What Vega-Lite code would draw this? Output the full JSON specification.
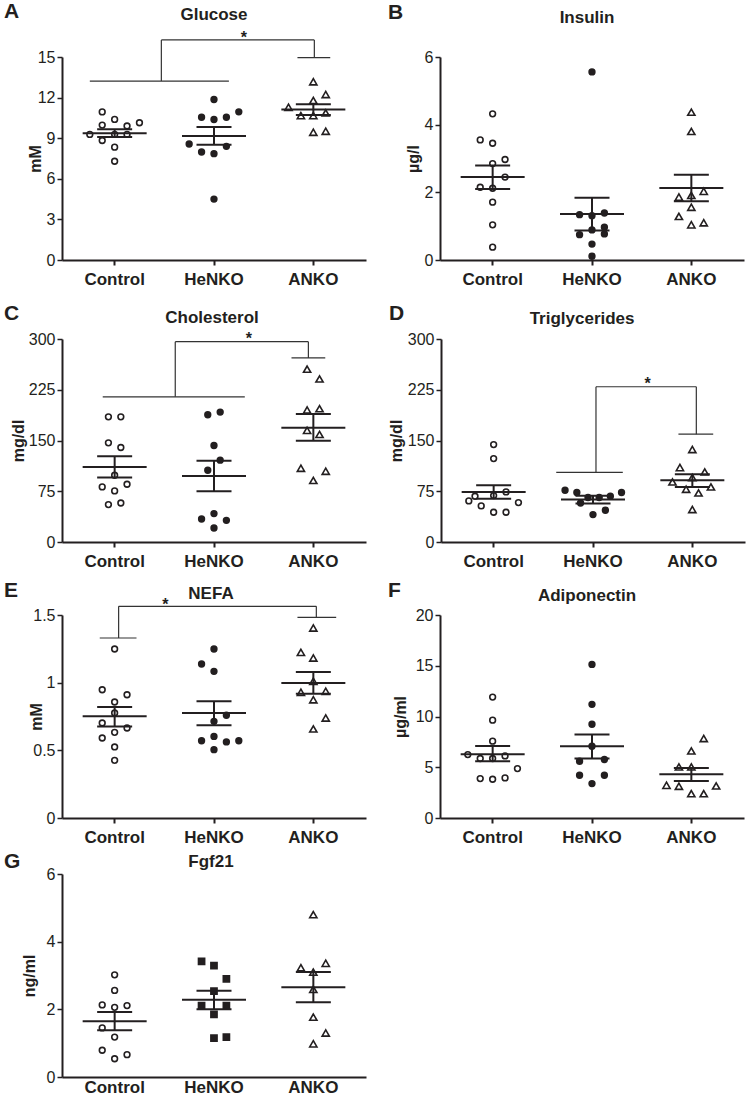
{
"$schema":"https://vega.github.io/schema/vega-lite/v6.json",
"background":"white",
"padding":{"left":4,"top":0,"right":2,"bottom":0},
"config":{
 "view":{"stroke":null},
 "font":"Liberation Sans",
 "axis":{"domainColor":"#231f20","domainWidth":2,"tickColor":"#231f20","labelColor":"#231f20","titleColor":"#231f20","grid":false,"labelFont":"Liberation Sans","titleFont":"Liberation Sans"},
 "axisX":{"labelAngle":0,"labelFontSize":17,"labelFontWeight":"bold","labelPadding":6,"tickSize":5,"tickWidth":2},
 "axisY":{"labelFontSize":16,"labelPadding":2,"tickSize":5,"tickWidth":1.5,"titleFontSize":16,"titleFontWeight":"bold"},
 "title":{"fontSize":21,"fontWeight":"bold","anchor":"start","frame":"group","color":"#231f20","font":"Liberation Sans","baseline":"alphabetic"}
},
"datasets":{
"pts":[
{"panel":"Glucose","group":"Control","slot":-1,"value":10.94},{"panel":"Glucose","group":"Control","slot":0,"value":10.39},{"panel":"Glucose","group":"Control","slot":-1,"value":9.97},{"panel":"Glucose","group":"Control","slot":1,"value":9.9},{"panel":"Glucose","group":"Control","slot":2,"value":10.14},{"panel":"Glucose","group":"Control","slot":-2,"value":9.28},{"panel":"Glucose","group":"Control","slot":0,"value":9.28},{"panel":"Glucose","group":"Control","slot":1,"value":9.28},{"panel":"Glucose","group":"Control","slot":-1,"value":8.83},{"panel":"Glucose","group":"Control","slot":0,"value":8.34},{"panel":"Glucose","group":"Control","slot":0,"value":7.3},
{"panel":"Glucose","group":"HeNKO","slot":0,"value":11.86},{"panel":"Glucose","group":"HeNKO","slot":2,"value":10.95},{"panel":"Glucose","group":"HeNKO","slot":-1,"value":10.55},{"panel":"Glucose","group":"HeNKO","slot":0,"value":10.38},{"panel":"Glucose","group":"HeNKO","slot":1,"value":10.55},{"panel":"Glucose","group":"HeNKO","slot":-2,"value":8.57},{"panel":"Glucose","group":"HeNKO","slot":1,"value":8.4},{"panel":"Glucose","group":"HeNKO","slot":-1,"value":7.98},{"panel":"Glucose","group":"HeNKO","slot":0,"value":7.86},{"panel":"Glucose","group":"HeNKO","slot":0,"value":4.5},
{"panel":"Glucose","group":"ANKO","slot":0,"value":13.17},{"panel":"Glucose","group":"ANKO","slot":1,"value":12.23},{"panel":"Glucose","group":"ANKO","slot":0,"value":11.79},{"panel":"Glucose","group":"ANKO","slot":-2,"value":11.29},{"panel":"Glucose","group":"ANKO","slot":-1,"value":10.67},{"panel":"Glucose","group":"ANKO","slot":0,"value":10.67},{"panel":"Glucose","group":"ANKO","slot":1,"value":10.87},{"panel":"Glucose","group":"ANKO","slot":0,"value":9.44},{"panel":"Glucose","group":"ANKO","slot":1,"value":9.51},
{"panel":"Insulin","group":"Control","slot":0,"value":4.32},{"panel":"Insulin","group":"Control","slot":-1,"value":3.55},{"panel":"Insulin","group":"Control","slot":0,"value":3.45},{"panel":"Insulin","group":"Control","slot":1,"value":2.97},{"panel":"Insulin","group":"Control","slot":0,"value":2.85},{"panel":"Insulin","group":"Control","slot":1,"value":2.45},{"panel":"Insulin","group":"Control","slot":-1,"value":2.15},{"panel":"Insulin","group":"Control","slot":0,"value":2.12},{"panel":"Insulin","group":"Control","slot":0,"value":1.71},{"panel":"Insulin","group":"Control","slot":0,"value":1.04},{"panel":"Insulin","group":"Control","slot":0,"value":0.38},
{"panel":"Insulin","group":"HeNKO","slot":0,"value":5.56},{"panel":"Insulin","group":"HeNKO","slot":-1,"value":1.34},{"panel":"Insulin","group":"HeNKO","slot":0,"value":1.31},{"panel":"Insulin","group":"HeNKO","slot":1,"value":1.39},{"panel":"Insulin","group":"HeNKO","slot":-1,"value":0.75},{"panel":"Insulin","group":"HeNKO","slot":0,"value":0.89},{"panel":"Insulin","group":"HeNKO","slot":1,"value":0.97},{"panel":"Insulin","group":"HeNKO","slot":1,"value":0.77},{"panel":"Insulin","group":"HeNKO","slot":0,"value":0.47},{"panel":"Insulin","group":"HeNKO","slot":0,"value":0.11},
{"panel":"Insulin","group":"ANKO","slot":0,"value":4.37},{"panel":"Insulin","group":"ANKO","slot":0,"value":3.8},{"panel":"Insulin","group":"ANKO","slot":-1,"value":1.86},{"panel":"Insulin","group":"ANKO","slot":0,"value":1.91},{"panel":"Insulin","group":"ANKO","slot":1,"value":2.03},{"panel":"Insulin","group":"ANKO","slot":0,"value":1.56},{"panel":"Insulin","group":"ANKO","slot":-1,"value":1.29},{"panel":"Insulin","group":"ANKO","slot":0,"value":1.04},{"panel":"Insulin","group":"ANKO","slot":1,"value":1.1},
{"panel":"Cholesterol","group":"Control","slot":-0.5,"value":185},{"panel":"Cholesterol","group":"Control","slot":0.5,"value":185},{"panel":"Cholesterol","group":"Control","slot":-0.5,"value":146.5},{"panel":"Cholesterol","group":"Control","slot":0.5,"value":139.6},{"panel":"Cholesterol","group":"Control","slot":0,"value":98.7},{"panel":"Cholesterol","group":"Control","slot":-1,"value":81.4},{"panel":"Cholesterol","group":"Control","slot":0,"value":75.5},{"panel":"Cholesterol","group":"Control","slot":1,"value":85.3},{"panel":"Cholesterol","group":"Control","slot":-0.5,"value":55.3},{"panel":"Cholesterol","group":"Control","slot":0.5,"value":57.7},
{"panel":"Cholesterol","group":"HeNKO","slot":-0.5,"value":188},{"panel":"Cholesterol","group":"HeNKO","slot":0.5,"value":192},{"panel":"Cholesterol","group":"HeNKO","slot":0,"value":142.6},{"panel":"Cholesterol","group":"HeNKO","slot":0.5,"value":120.9},{"panel":"Cholesterol","group":"HeNKO","slot":-0.5,"value":106},{"panel":"Cholesterol","group":"HeNKO","slot":-1,"value":34},{"panel":"Cholesterol","group":"HeNKO","slot":0,"value":42},{"panel":"Cholesterol","group":"HeNKO","slot":1,"value":32},{"panel":"Cholesterol","group":"HeNKO","slot":0,"value":20.7},
{"panel":"Cholesterol","group":"ANKO","slot":-0.5,"value":255.5},{"panel":"Cholesterol","group":"ANKO","slot":0.5,"value":241},{"panel":"Cholesterol","group":"ANKO","slot":-0.5,"value":195},{"panel":"Cholesterol","group":"ANKO","slot":0.5,"value":197},{"panel":"Cholesterol","group":"ANKO","slot":-0.5,"value":165},{"panel":"Cholesterol","group":"ANKO","slot":0.5,"value":159},{"panel":"Cholesterol","group":"ANKO","slot":-1,"value":109},{"panel":"Cholesterol","group":"ANKO","slot":0,"value":91},{"panel":"Cholesterol","group":"ANKO","slot":1,"value":104.6},
{"panel":"Triglycerides","group":"Control","slot":0,"value":144},{"panel":"Triglycerides","group":"Control","slot":0,"value":123.3},{"panel":"Triglycerides","group":"Control","slot":-1.5,"value":67.6},{"panel":"Triglycerides","group":"Control","slot":0,"value":68.6},{"panel":"Triglycerides","group":"Control","slot":1,"value":74},{"panel":"Triglycerides","group":"Control","slot":-2,"value":60.7},{"panel":"Triglycerides","group":"Control","slot":-1,"value":53.3},{"panel":"Triglycerides","group":"Control","slot":2,"value":58.2},{"panel":"Triglycerides","group":"Control","slot":0,"value":43.9},{"panel":"Triglycerides","group":"Control","slot":1,"value":43.9},
{"panel":"Triglycerides","group":"HeNKO","slot":-2.25,"value":76.5},{"panel":"Triglycerides","group":"HeNKO","slot":-1.3,"value":73.1},{"panel":"Triglycerides","group":"HeNKO","slot":-0.4,"value":65.7},{"panel":"Triglycerides","group":"HeNKO","slot":0.5,"value":65.7},{"panel":"Triglycerides","group":"HeNKO","slot":1.4,"value":67.6},{"panel":"Triglycerides","group":"HeNKO","slot":2.3,"value":73.1},{"panel":"Triglycerides","group":"HeNKO","slot":-1,"value":57.7},{"panel":"Triglycerides","group":"HeNKO","slot":0,"value":40.5},{"panel":"Triglycerides","group":"HeNKO","slot":1,"value":46.9},
{"panel":"Triglycerides","group":"ANKO","slot":0,"value":136.7},{"panel":"Triglycerides","group":"ANKO","slot":-1,"value":110},{"panel":"Triglycerides","group":"ANKO","slot":1,"value":103.6},{"panel":"Triglycerides","group":"ANKO","slot":0,"value":95.3},{"panel":"Triglycerides","group":"ANKO","slot":-1.6,"value":88.8},{"panel":"Triglycerides","group":"ANKO","slot":-0.5,"value":78},{"panel":"Triglycerides","group":"ANKO","slot":0.5,"value":72.5},{"panel":"Triglycerides","group":"ANKO","slot":1.5,"value":81.4},{"panel":"Triglycerides","group":"ANKO","slot":0,"value":48},
{"panel":"NEFA","group":"Control","slot":0,"value":1.249},{"panel":"NEFA","group":"Control","slot":-1,"value":0.948},{"panel":"NEFA","group":"Control","slot":1,"value":0.911},{"panel":"NEFA","group":"Control","slot":0,"value":0.857},{"panel":"NEFA","group":"Control","slot":0,"value":0.776},{"panel":"NEFA","group":"Control","slot":-1,"value":0.702},{"panel":"NEFA","group":"Control","slot":0,"value":0.633},{"panel":"NEFA","group":"Control","slot":1,"value":0.665},{"panel":"NEFA","group":"Control","slot":-1,"value":0.591},{"panel":"NEFA","group":"Control","slot":0,"value":0.525},{"panel":"NEFA","group":"Control","slot":0,"value":0.426},
{"panel":"NEFA","group":"HeNKO","slot":0,"value":1.249},{"panel":"NEFA","group":"HeNKO","slot":-1,"value":1.138},{"panel":"NEFA","group":"HeNKO","slot":0,"value":1.084},{"panel":"NEFA","group":"HeNKO","slot":1,"value":0.759},{"panel":"NEFA","group":"HeNKO","slot":0,"value":0.714},{"panel":"NEFA","group":"HeNKO","slot":-1,"value":0.571},{"panel":"NEFA","group":"HeNKO","slot":0,"value":0.603},{"panel":"NEFA","group":"HeNKO","slot":1,"value":0.562},{"panel":"NEFA","group":"HeNKO","slot":2,"value":0.571},{"panel":"NEFA","group":"HeNKO","slot":0,"value":0.505},
{"panel":"NEFA","group":"ANKO","slot":0,"value":1.404},{"panel":"NEFA","group":"ANKO","slot":-1,"value":1.224},{"panel":"NEFA","group":"ANKO","slot":0,"value":1.182},{"panel":"NEFA","group":"ANKO","slot":0,"value":1.01},{"panel":"NEFA","group":"ANKO","slot":-1,"value":0.929},{"panel":"NEFA","group":"ANKO","slot":1,"value":0.936},{"panel":"NEFA","group":"ANKO","slot":0,"value":0.874},{"panel":"NEFA","group":"ANKO","slot":1,"value":0.739},{"panel":"NEFA","group":"ANKO","slot":0,"value":0.658},
{"panel":"Adiponectin","group":"Control","slot":0,"value":11.91},{"panel":"Adiponectin","group":"Control","slot":0,"value":9.64},{"panel":"Adiponectin","group":"Control","slot":0,"value":7.57},{"panel":"Adiponectin","group":"Control","slot":-2,"value":6.25},{"panel":"Adiponectin","group":"Control","slot":-1,"value":5.86},{"panel":"Adiponectin","group":"Control","slot":0,"value":5.86},{"panel":"Adiponectin","group":"Control","slot":1,"value":6.12},{"panel":"Adiponectin","group":"Control","slot":2,"value":4.87},{"panel":"Adiponectin","group":"Control","slot":-1,"value":3.88},{"panel":"Adiponectin","group":"Control","slot":0,"value":3.82},{"panel":"Adiponectin","group":"Control","slot":1,"value":3.95},
{"panel":"Adiponectin","group":"HeNKO","slot":0,"value":15.13},{"panel":"Adiponectin","group":"HeNKO","slot":0,"value":11.2},{"panel":"Adiponectin","group":"HeNKO","slot":0,"value":9.24},{"panel":"Adiponectin","group":"HeNKO","slot":0,"value":7.07},{"panel":"Adiponectin","group":"HeNKO","slot":-1,"value":5.59},{"panel":"Adiponectin","group":"HeNKO","slot":1,"value":5.76},{"panel":"Adiponectin","group":"HeNKO","slot":-1,"value":4.21},{"panel":"Adiponectin","group":"HeNKO","slot":1,"value":4.21},{"panel":"Adiponectin","group":"HeNKO","slot":0,"value":3.39},
{"panel":"Adiponectin","group":"ANKO","slot":1,"value":7.83},{"panel":"Adiponectin","group":"ANKO","slot":0,"value":6.61},{"panel":"Adiponectin","group":"ANKO","slot":-1,"value":5.03},{"panel":"Adiponectin","group":"ANKO","slot":0,"value":5.03},{"panel":"Adiponectin","group":"ANKO","slot":-2,"value":3.22},{"panel":"Adiponectin","group":"ANKO","slot":-1,"value":3.13},{"panel":"Adiponectin","group":"ANKO","slot":0,"value":2.4},{"panel":"Adiponectin","group":"ANKO","slot":1,"value":2.4},{"panel":"Adiponectin","group":"ANKO","slot":2,"value":3.16},
{"panel":"Fgf21","group":"Control","slot":0,"value":3.02},{"panel":"Fgf21","group":"Control","slot":0,"value":2.56},{"panel":"Fgf21","group":"Control","slot":-1,"value":2.13},{"panel":"Fgf21","group":"Control","slot":0,"value":2.06},{"panel":"Fgf21","group":"Control","slot":1,"value":2.11},{"panel":"Fgf21","group":"Control","slot":-1,"value":1.45},{"panel":"Fgf21","group":"Control","slot":0,"value":1.18},{"panel":"Fgf21","group":"Control","slot":-1,"value":0.79},{"panel":"Fgf21","group":"Control","slot":0,"value":0.54},{"panel":"Fgf21","group":"Control","slot":1,"value":0.66},
{"panel":"Fgf21","group":"HeNKO","slot":-1,"value":3.42},{"panel":"Fgf21","group":"HeNKO","slot":0,"value":3.29},{"panel":"Fgf21","group":"HeNKO","slot":1,"value":2.9},{"panel":"Fgf21","group":"HeNKO","slot":0,"value":2.54},{"panel":"Fgf21","group":"HeNKO","slot":-1,"value":2.11},{"panel":"Fgf21","group":"HeNKO","slot":1,"value":2.11},{"panel":"Fgf21","group":"HeNKO","slot":0,"value":1.85},{"panel":"Fgf21","group":"HeNKO","slot":0,"value":1.15},{"panel":"Fgf21","group":"HeNKO","slot":1,"value":1.18},
{"panel":"Fgf21","group":"ANKO","slot":0,"value":4.8},{"panel":"Fgf21","group":"ANKO","slot":-1,"value":3.23},{"panel":"Fgf21","group":"ANKO","slot":1,"value":3.36},{"panel":"Fgf21","group":"ANKO","slot":0,"value":3.1},{"panel":"Fgf21","group":"ANKO","slot":0,"value":2.59},{"panel":"Fgf21","group":"ANKO","slot":0,"value":1.77},{"panel":"Fgf21","group":"ANKO","slot":1,"value":1.3},{"panel":"Fgf21","group":"ANKO","slot":0,"value":0.98}
],
"st":[
{"panel":"Glucose","group":"Control","mean":9.37,"lo":9.08,"hi":9.66},{"panel":"Glucose","group":"HeNKO","mean":9.17,"lo":8.52,"hi":9.83},{"panel":"Glucose","group":"ANKO","mean":11.12,"lo":10.72,"hi":11.51},
{"panel":"Insulin","group":"Control","mean":2.45,"lo":2.1,"hi":2.79},{"panel":"Insulin","group":"HeNKO","mean":1.36,"lo":0.87,"hi":1.84},{"panel":"Insulin","group":"ANKO","mean":2.13,"lo":1.74,"hi":2.52},
{"panel":"Cholesterol","group":"Control","mean":111,"lo":95.2,"hi":126.8},{"panel":"Cholesterol","group":"HeNKO","mean":97.7,"lo":75,"hi":120},{"panel":"Cholesterol","group":"ANKO","mean":169,"lo":149.5,"hi":189},
{"panel":"Triglycerides","group":"Control","mean":74,"lo":64,"hi":83.9},{"panel":"Triglycerides","group":"HeNKO","mean":62.7,"lo":57,"hi":68.5},{"panel":"Triglycerides","group":"ANKO","mean":91.3,"lo":81.4,"hi":100.2},
{"panel":"NEFA","group":"Control","mean":0.751,"lo":0.677,"hi":0.82},{"panel":"NEFA","group":"HeNKO","mean":0.776,"lo":0.685,"hi":0.862},{"panel":"NEFA","group":"ANKO","mean":0.998,"lo":0.919,"hi":1.079},
{"panel":"Adiponectin","group":"Control","mean":6.28,"lo":5.6,"hi":7.1},{"panel":"Adiponectin","group":"HeNKO","mean":7.07,"lo":5.86,"hi":8.22},{"panel":"Adiponectin","group":"ANKO","mean":4.31,"lo":3.65,"hi":4.93},
{"panel":"Fgf21","group":"Control","mean":1.65,"lo":1.38,"hi":1.92},{"panel":"Fgf21","group":"HeNKO","mean":2.28,"lo":2.0,"hi":2.55},{"panel":"Fgf21","group":"ANKO","mean":2.65,"lo":2.21,"hi":3.1}
]
},
"spacing":16,
"vconcat":[
{"hconcat":[
 {"width":304,"height":203,"title":{"text":"A","dx":-58,"offset":-15.5},
  "layer":[
   {"data":{"name":"pts"},"transform":[{"filter":"datum.panel === 'Glucose'"}],"mark":{"type":"point","filled":true,"opacity":1,"stroke":"#231f20","strokeWidth":1.6},
    "encoding":{"x":{"field":"group","type":"nominal","title":null,"scale":{"domain":["Control","HeNKO","ANKO"],"paddingInner":0,"paddingOuter":0.03}},
     "xOffset":{"field":"slot","type":"quantitative","scale":{"domain":[-4,4],"range":[0,99.3]}},
     "y":{"field":"value","type":"quantitative","title":"mM","scale":{"domain":[0,15],"nice":false},"axis":{"values":[0,3,6,9,12,15],"format":"d","titleX":-19}},
     "shape":{"condition":{"test":"datum.group === 'ANKO'","value":"triangle-up"},"value":"circle"},
     "size":{"condition":{"test":"datum.group === 'ANKO'","value":52},"value":33},
     "fill":{"condition":{"test":"datum.group === 'HeNKO'","value":"#231f20"},"value":"#ffffff"}}},
   {"data":{"name":"st"},"transform":[{"filter":"datum.panel === 'Glucose'"}],"mark":{"type":"tick","size":64,"thickness":2,"color":"#231f20","opacity":1},"encoding":{"x":{"field":"group","type":"nominal","title":null},"y":{"field":"mean","type":"quantitative","title":"mM"}}},
   {"data":{"name":"st"},"transform":[{"filter":"datum.panel === 'Glucose'"}],"mark":{"type":"rule","strokeWidth":2,"color":"#231f20"},"encoding":{"x":{"field":"group","type":"nominal","title":null},"y":{"field":"lo","type":"quantitative","title":"mM"},"y2":{"field":"hi"}}},
   {"data":{"name":"st"},"transform":[{"filter":"datum.panel === 'Glucose'"},{"fold":["lo","hi"],"as":["k","v"]}],"mark":{"type":"tick","size":35,"thickness":2,"color":"#231f20","opacity":1},"encoding":{"x":{"field":"group","type":"nominal","title":null},"y":{"field":"v","type":"quantitative","title":"mM"}}},
   {"data":{"values":[{}]},"mark":{"type":"text","fontSize":17,"fontWeight":"bold","color":"#231f20","baseline":"middle"},"encoding":{"x":{"datum":"HeNKO","bandPosition":0.5},"y":{"datum":18.1},"text":{"value":"Glucose"}}},
   {"data":{"values":[{}]},"mark":{"type":"rule","color":"#333333","strokeWidth":1.2},"encoding":{"x":{"datum":"Control","bandPosition":0.25},"x2":{"datum":"HeNKO","bandPosition":0.65},"y":{"datum":13.22}}},
   {"data":{"values":[{}]},"mark":{"type":"rule","color":"#333333","strokeWidth":1.2},"encoding":{"x":{"datum":"Control","bandPosition":0.97},"y":{"datum":13.22},"y2":{"datum":16.26}}},
   {"data":{"values":[{}]},"mark":{"type":"rule","color":"#333333","strokeWidth":1.2},"encoding":{"x":{"datum":"Control","bandPosition":0.97},"x2":{"datum":"ANKO","bandPosition":0.51},"y":{"datum":16.26}}},
   {"data":{"values":[{}]},"mark":{"type":"rule","color":"#333333","strokeWidth":1.2},"encoding":{"x":{"datum":"ANKO","bandPosition":0.51},"y":{"datum":16.26},"y2":{"datum":14.95}}},
   {"data":{"values":[{}]},"mark":{"type":"rule","color":"#333333","strokeWidth":1.2},"encoding":{"x":{"datum":"ANKO","bandPosition":0.34},"x2":{"datum":"ANKO","bandPosition":0.67},"y":{"datum":14.95}}},
   {"data":{"values":[{}]},"mark":{"type":"text","fontSize":16,"fontWeight":"bold","color":"#231f20","baseline":"alphabetic"},"encoding":{"x":{"datum":"HeNKO","bandPosition":0.8},"y":{"datum":16.06},"text":{"value":"*"}}}
  ]},
 {"width":304,"height":203,"title":{"text":"B","dx":-52,"offset":-14.5},
  "layer":[
   {"data":{"name":"pts"},"transform":[{"filter":"datum.panel === 'Insulin'"}],"mark":{"type":"point","filled":true,"opacity":1,"stroke":"#231f20","strokeWidth":1.6},
    "encoding":{"x":{"field":"group","type":"nominal","title":null,"scale":{"domain":["Control","HeNKO","ANKO"],"paddingInner":0,"paddingOuter":0.03}},
     "xOffset":{"field":"slot","type":"quantitative","scale":{"domain":[-4,4],"range":[0,99.3]}},
     "y":{"field":"value","type":"quantitative","title":"µg/l","scale":{"domain":[0,6],"nice":false},"axis":{"values":[0,2,4,6],"format":"d","titleX":-19}},
     "shape":{"condition":{"test":"datum.group === 'ANKO'","value":"triangle-up"},"value":"circle"},
     "size":{"condition":{"test":"datum.group === 'ANKO'","value":52},"value":33},
     "fill":{"condition":{"test":"datum.group === 'HeNKO'","value":"#231f20"},"value":"#ffffff"}}},
   {"data":{"name":"st"},"transform":[{"filter":"datum.panel === 'Insulin'"}],"mark":{"type":"tick","size":64,"thickness":2,"color":"#231f20","opacity":1},"encoding":{"x":{"field":"group","type":"nominal","title":null},"y":{"field":"mean","type":"quantitative","title":"µg/l"}}},
   {"data":{"name":"st"},"transform":[{"filter":"datum.panel === 'Insulin'"}],"mark":{"type":"rule","strokeWidth":2,"color":"#231f20"},"encoding":{"x":{"field":"group","type":"nominal","title":null},"y":{"field":"lo","type":"quantitative","title":"µg/l"},"y2":{"field":"hi"}}},
   {"data":{"name":"st"},"transform":[{"filter":"datum.panel === 'Insulin'"},{"fold":["lo","hi"],"as":["k","v"]}],"mark":{"type":"tick","size":35,"thickness":2,"color":"#231f20","opacity":1},"encoding":{"x":{"field":"group","type":"nominal","title":null},"y":{"field":"v","type":"quantitative","title":"µg/l"}}},
   {"data":{"values":[{}]},"mark":{"type":"text","fontSize":17,"fontWeight":"bold","color":"#231f20","baseline":"middle"},"encoding":{"x":{"datum":"HeNKO","bandPosition":0.45},"y":{"datum":7.16},"text":{"value":"Insulin"}}}
  ]}
],"spacing":22},
{"spacing":10,"vconcat":[
 {"hconcat":[
  {"width":304,"height":203,"title":{"text":"C","dx":-58,"offset":-15},
   "layer":[
    {"data":{"name":"pts"},"transform":[{"filter":"datum.panel === 'Cholesterol'"}],"mark":{"type":"point","filled":true,"opacity":1,"stroke":"#231f20","strokeWidth":1.6},
     "encoding":{"x":{"field":"group","type":"nominal","title":null,"scale":{"domain":["Control","HeNKO","ANKO"],"paddingInner":0,"paddingOuter":0.03}},
      "xOffset":{"field":"slot","type":"quantitative","scale":{"domain":[-4,4],"range":[0,99.3]}},
      "y":{"field":"value","type":"quantitative","title":"mg/dl","scale":{"domain":[0,300],"nice":false},"axis":{"values":[0,75,150,225,300],"format":"d","titleX":-36}},
      "shape":{"condition":{"test":"datum.group === 'ANKO'","value":"triangle-up"},"value":"circle"},
      "size":{"condition":{"test":"datum.group === 'ANKO'","value":52},"value":33},
      "fill":{"condition":{"test":"datum.group === 'HeNKO'","value":"#231f20"},"value":"#ffffff"}}},
    {"data":{"name":"st"},"transform":[{"filter":"datum.panel === 'Cholesterol'"}],"mark":{"type":"tick","size":64,"thickness":2,"color":"#231f20","opacity":1},"encoding":{"x":{"field":"group","type":"nominal","title":null},"y":{"field":"mean","type":"quantitative","title":"mg/dl"}}},
    {"data":{"name":"st"},"transform":[{"filter":"datum.panel === 'Cholesterol'"}],"mark":{"type":"rule","strokeWidth":2,"color":"#231f20"},"encoding":{"x":{"field":"group","type":"nominal","title":null},"y":{"field":"lo","type":"quantitative","title":"mg/dl"},"y2":{"field":"hi"}}},
    {"data":{"name":"st"},"transform":[{"filter":"datum.panel === 'Cholesterol'"},{"fold":["lo","hi"],"as":["k","v"]}],"mark":{"type":"tick","size":35,"thickness":2,"color":"#231f20","opacity":1},"encoding":{"x":{"field":"group","type":"nominal","title":null},"y":{"field":"v","type":"quantitative","title":"mg/dl"}}},
    {"data":{"values":[{}]},"mark":{"type":"text","fontSize":17,"fontWeight":"bold","color":"#231f20","baseline":"middle"},"encoding":{"x":{"datum":"HeNKO","bandPosition":0.48},"y":{"datum":330.6},"text":{"value":"Cholesterol"}}},
    {"data":{"values":[{}]},"mark":{"type":"rule","color":"#333333","strokeWidth":1.2},"encoding":{"x":{"datum":"Control","bandPosition":0.38},"x2":{"datum":"HeNKO","bandPosition":0.81},"y":{"datum":214.6}}},
    {"data":{"values":[{}]},"mark":{"type":"rule","color":"#333333","strokeWidth":1.2},"encoding":{"x":{"datum":"HeNKO","bandPosition":0.11},"y":{"datum":214.6},"y2":{"datum":296}}},
    {"data":{"values":[{}]},"mark":{"type":"rule","color":"#333333","strokeWidth":1.2},"encoding":{"x":{"datum":"HeNKO","bandPosition":0.11},"x2":{"datum":"ANKO","bandPosition":0.45},"y":{"datum":296}}},
    {"data":{"values":[{}]},"mark":{"type":"rule","color":"#333333","strokeWidth":1.2},"encoding":{"x":{"datum":"ANKO","bandPosition":0.45},"y":{"datum":296},"y2":{"datum":272}}},
    {"data":{"values":[{}]},"mark":{"type":"rule","color":"#333333","strokeWidth":1.2},"encoding":{"x":{"datum":"ANKO","bandPosition":0.28},"x2":{"datum":"ANKO","bandPosition":0.62},"y":{"datum":272}}},
    {"data":{"values":[{}]},"mark":{"type":"text","fontSize":16,"fontWeight":"bold","color":"#231f20","baseline":"alphabetic"},"encoding":{"x":{"datum":"HeNKO","bandPosition":0.85},"y":{"datum":292.6},"text":{"value":"*"}}}
   ]},
  {"width":304,"height":203,"title":{"text":"D","dx":-52,"offset":-14},
   "layer":[
    {"data":{"name":"pts"},"transform":[{"filter":"datum.panel === 'Triglycerides'"}],"mark":{"type":"point","filled":true,"opacity":1,"stroke":"#231f20","strokeWidth":1.6},
     "encoding":{"x":{"field":"group","type":"nominal","title":null,"scale":{"domain":["Control","HeNKO","ANKO"],"paddingInner":0,"paddingOuter":0.03}},
      "xOffset":{"field":"slot","type":"quantitative","scale":{"domain":[-4,4],"range":[0,99.3]}},
      "y":{"field":"value","type":"quantitative","title":"mg/dl","scale":{"domain":[0,300],"nice":false},"axis":{"values":[0,75,150,225,300],"format":"d","titleX":-37}},
      "shape":{"condition":{"test":"datum.group === 'ANKO'","value":"triangle-up"},"value":"circle"},
      "size":{"condition":{"test":"datum.group === 'ANKO'","value":52},"value":33},
      "fill":{"condition":{"test":"datum.group === 'HeNKO'","value":"#231f20"},"value":"#ffffff"}}},
    {"data":{"name":"st"},"transform":[{"filter":"datum.panel === 'Triglycerides'"}],"mark":{"type":"tick","size":64,"thickness":2,"color":"#231f20","opacity":1},"encoding":{"x":{"field":"group","type":"nominal","title":null},"y":{"field":"mean","type":"quantitative","title":"mg/dl"}}},
    {"data":{"name":"st"},"transform":[{"filter":"datum.panel === 'Triglycerides'"}],"mark":{"type":"rule","strokeWidth":2,"color":"#231f20"},"encoding":{"x":{"field":"group","type":"nominal","title":null},"y":{"field":"lo","type":"quantitative","title":"mg/dl"},"y2":{"field":"hi"}}},
    {"data":{"name":"st"},"transform":[{"filter":"datum.panel === 'Triglycerides'"},{"fold":["lo","hi"],"as":["k","v"]}],"mark":{"type":"tick","size":35,"thickness":2,"color":"#231f20","opacity":1},"encoding":{"x":{"field":"group","type":"nominal","title":null},"y":{"field":"v","type":"quantitative","title":"mg/dl"}}},
    {"data":{"values":[{}]},"mark":{"type":"text","fontSize":17,"fontWeight":"bold","color":"#231f20","baseline":"middle"},"encoding":{"x":{"datum":"HeNKO","bandPosition":0.39},"y":{"datum":329},"text":{"value":"Triglycerides"}}},
    {"data":{"values":[{}]},"mark":{"type":"rule","color":"#333333","strokeWidth":1.2},"encoding":{"x":{"datum":"HeNKO","bandPosition":0.13},"x2":{"datum":"HeNKO","bandPosition":0.8},"y":{"datum":103}}},
    {"data":{"values":[{}]},"mark":{"type":"rule","color":"#333333","strokeWidth":1.2},"encoding":{"x":{"datum":"HeNKO","bandPosition":0.53},"y":{"datum":103},"y2":{"datum":229.4}}},
    {"data":{"values":[{}]},"mark":{"type":"rule","color":"#333333","strokeWidth":1.2},"encoding":{"x":{"datum":"HeNKO","bandPosition":0.53},"x2":{"datum":"ANKO","bandPosition":0.54},"y":{"datum":229.4}}},
    {"data":{"values":[{}]},"mark":{"type":"rule","color":"#333333","strokeWidth":1.2},"encoding":{"x":{"datum":"ANKO","bandPosition":0.54},"y":{"datum":229.4},"y2":{"datum":159.3}}},
    {"data":{"values":[{}]},"mark":{"type":"rule","color":"#333333","strokeWidth":1.2},"encoding":{"x":{"datum":"ANKO","bandPosition":0.36},"x2":{"datum":"ANKO","bandPosition":0.71},"y":{"datum":159.3}}},
    {"data":{"values":[{}]},"mark":{"type":"text","fontSize":16,"fontWeight":"bold","color":"#231f20","baseline":"alphabetic"},"encoding":{"x":{"datum":"ANKO","bandPosition":0.05},"y":{"datum":226},"text":{"value":"*"}}}
   ]}
 ],"spacing":22},
 {"spacing":6,"vconcat":[
  {"hconcat":[
   {"width":304,"height":203,"title":{"text":"E","dx":-58,"offset":-16},
    "layer":[
     {"data":{"name":"pts"},"transform":[{"filter":"datum.panel === 'NEFA'"}],"mark":{"type":"point","filled":true,"opacity":1,"stroke":"#231f20","strokeWidth":1.6},
      "encoding":{"x":{"field":"group","type":"nominal","title":null,"scale":{"domain":["Control","HeNKO","ANKO"],"paddingInner":0,"paddingOuter":0.03}},
       "xOffset":{"field":"slot","type":"quantitative","scale":{"domain":[-4,4],"range":[0,99.3]}},
       "y":{"field":"value","type":"quantitative","title":"mM","scale":{"domain":[0,1.5],"nice":false},"axis":{"values":[0,0.5,1,1.5],"format":"~g","titleX":-18}},
       "shape":{"condition":{"test":"datum.group === 'ANKO'","value":"triangle-up"},"value":"circle"},
       "size":{"condition":{"test":"datum.group === 'ANKO'","value":52},"value":33},
       "fill":{"condition":{"test":"datum.group === 'HeNKO'","value":"#231f20"},"value":"#ffffff"}}},
     {"data":{"name":"st"},"transform":[{"filter":"datum.panel === 'NEFA'"}],"mark":{"type":"tick","size":64,"thickness":2,"color":"#231f20","opacity":1},"encoding":{"x":{"field":"group","type":"nominal","title":null},"y":{"field":"mean","type":"quantitative","title":"mM"}}},
     {"data":{"name":"st"},"transform":[{"filter":"datum.panel === 'NEFA'"}],"mark":{"type":"rule","strokeWidth":2,"color":"#231f20"},"encoding":{"x":{"field":"group","type":"nominal","title":null},"y":{"field":"lo","type":"quantitative","title":"mM"},"y2":{"field":"hi"}}},
     {"data":{"name":"st"},"transform":[{"filter":"datum.panel === 'NEFA'"},{"fold":["lo","hi"],"as":["k","v"]}],"mark":{"type":"tick","size":35,"thickness":2,"color":"#231f20","opacity":1},"encoding":{"x":{"field":"group","type":"nominal","title":null},"y":{"field":"v","type":"quantitative","title":"mM"}}},
     {"data":{"values":[{}]},"mark":{"type":"text","fontSize":17,"fontWeight":"bold","color":"#231f20","baseline":"middle"},"encoding":{"x":{"datum":"HeNKO","bandPosition":0.47},"y":{"datum":1.655},"text":{"value":"NEFA"}}},
     {"data":{"values":[{}]},"mark":{"type":"rule","color":"#333333","strokeWidth":1.2},"encoding":{"x":{"datum":"Control","bandPosition":0.35},"x2":{"datum":"Control","bandPosition":0.72},"y":{"datum":1.33}}},
     {"data":{"values":[{}]},"mark":{"type":"rule","color":"#333333","strokeWidth":1.2},"encoding":{"x":{"datum":"Control","bandPosition":0.54},"y":{"datum":1.33},"y2":{"datum":1.564}}},
     {"data":{"values":[{}]},"mark":{"type":"rule","color":"#333333","strokeWidth":1.2},"encoding":{"x":{"datum":"Control","bandPosition":0.54},"x2":{"datum":"ANKO","bandPosition":0.53},"y":{"datum":1.564}}},
     {"data":{"values":[{}]},"mark":{"type":"rule","color":"#333333","strokeWidth":1.2},"encoding":{"x":{"datum":"ANKO","bandPosition":0.53},"y":{"datum":1.564},"y2":{"datum":1.483}}},
     {"data":{"values":[{}]},"mark":{"type":"rule","color":"#333333","strokeWidth":1.2},"encoding":{"x":{"datum":"ANKO","bandPosition":0.34},"x2":{"datum":"ANKO","bandPosition":0.73},"y":{"datum":1.483}}},
     {"data":{"values":[{}]},"mark":{"type":"text","fontSize":16,"fontWeight":"bold","color":"#231f20","baseline":"alphabetic"},"encoding":{"x":{"datum":"HeNKO","bandPosition":0.01},"y":{"datum":1.534},"text":{"value":"*"}}}
    ]},
   {"width":304,"height":203,"title":{"text":"F","dx":-52,"offset":-14},
    "layer":[
     {"data":{"name":"pts"},"transform":[{"filter":"datum.panel === 'Adiponectin'"}],"mark":{"type":"point","filled":true,"opacity":1,"stroke":"#231f20","strokeWidth":1.6},
      "encoding":{"x":{"field":"group","type":"nominal","title":null,"scale":{"domain":["Control","HeNKO","ANKO"],"paddingInner":0,"paddingOuter":0.03}},
       "xOffset":{"field":"slot","type":"quantitative","scale":{"domain":[-4,4],"range":[0,99.3]}},
       "y":{"field":"value","type":"quantitative","title":"µg/ml","scale":{"domain":[0,20],"nice":false},"axis":{"values":[0,5,10,15,20],"format":"d","titleX":-32}},
       "shape":{"condition":{"test":"datum.group === 'ANKO'","value":"triangle-up"},"value":"circle"},
       "size":{"condition":{"test":"datum.group === 'ANKO'","value":52},"value":33},
       "fill":{"condition":{"test":"datum.group === 'HeNKO'","value":"#231f20"},"value":"#ffffff"}}},
     {"data":{"name":"st"},"transform":[{"filter":"datum.panel === 'Adiponectin'"}],"mark":{"type":"tick","size":64,"thickness":2,"color":"#231f20","opacity":1},"encoding":{"x":{"field":"group","type":"nominal","title":null},"y":{"field":"mean","type":"quantitative","title":"µg/ml"}}},
     {"data":{"name":"st"},"transform":[{"filter":"datum.panel === 'Adiponectin'"}],"mark":{"type":"rule","strokeWidth":2,"color":"#231f20"},"encoding":{"x":{"field":"group","type":"nominal","title":null},"y":{"field":"lo","type":"quantitative","title":"µg/ml"},"y2":{"field":"hi"}}},
     {"data":{"name":"st"},"transform":[{"filter":"datum.panel === 'Adiponectin'"},{"fold":["lo","hi"],"as":["k","v"]}],"mark":{"type":"tick","size":35,"thickness":2,"color":"#231f20","opacity":1},"encoding":{"x":{"field":"group","type":"nominal","title":null},"y":{"field":"v","type":"quantitative","title":"µg/ml"}}},
     {"data":{"values":[{}]},"mark":{"type":"text","fontSize":17,"fontWeight":"bold","color":"#231f20","baseline":"middle"},"encoding":{"x":{"datum":"HeNKO","bandPosition":0.45},"y":{"datum":21.9},"text":{"value":"Adiponectin"}}}
    ]}
  ],"spacing":22},
  {"width":304,"height":203,"title":{"text":"G","dx":-58,"offset":-19},
   "layer":[
    {"data":{"name":"pts"},"transform":[{"filter":"datum.panel === 'Fgf21'"}],"mark":{"type":"point","filled":true,"opacity":1,"stroke":"#231f20","strokeWidth":1.6},
     "encoding":{"x":{"field":"group","type":"nominal","title":null,"scale":{"domain":["Control","HeNKO","ANKO"],"paddingInner":0,"paddingOuter":0.03},"axis":{"tickSize":0,"labelPadding":2}},
      "xOffset":{"field":"slot","type":"quantitative","scale":{"domain":[-4,4],"range":[0,99.3]}},
      "y":{"field":"value","type":"quantitative","title":"ng/ml","scale":{"domain":[0,6],"nice":false},"axis":{"values":[0,2,4,6],"format":"d","titleX":-25}},
      "shape":{"condition":[{"test":"datum.group === 'ANKO'","value":"triangle-up"},{"test":"datum.group === 'HeNKO'","value":"square"}],"value":"circle"},
      "size":{"condition":[{"test":"datum.group === 'ANKO'","value":52},{"test":"datum.group === 'HeNKO'","value":38}],"value":33},
      "fill":{"condition":{"test":"datum.group === 'HeNKO'","value":"#231f20"},"value":"#ffffff"}}},
    {"data":{"name":"st"},"transform":[{"filter":"datum.panel === 'Fgf21'"}],"mark":{"type":"tick","size":64,"thickness":2,"color":"#231f20","opacity":1},"encoding":{"x":{"field":"group","type":"nominal","title":null},"y":{"field":"mean","type":"quantitative","title":"ng/ml"}}},
    {"data":{"name":"st"},"transform":[{"filter":"datum.panel === 'Fgf21'"}],"mark":{"type":"rule","strokeWidth":2,"color":"#231f20"},"encoding":{"x":{"field":"group","type":"nominal","title":null},"y":{"field":"lo","type":"quantitative","title":"ng/ml"},"y2":{"field":"hi"}}},
    {"data":{"name":"st"},"transform":[{"filter":"datum.panel === 'Fgf21'"},{"fold":["lo","hi"],"as":["k","v"]}],"mark":{"type":"tick","size":35,"thickness":2,"color":"#231f20","opacity":1},"encoding":{"x":{"field":"group","type":"nominal","title":null},"y":{"field":"v","type":"quantitative","title":"ng/ml"}}},
    {"data":{"values":[{}]},"mark":{"type":"text","fontSize":17,"fontWeight":"bold","color":"#231f20","baseline":"middle"},"encoding":{"x":{"datum":"HeNKO","bandPosition":0.47},"y":{"datum":6.34},"text":{"value":"Fgf21"}}}
   ]}
 ]}
]}
]
}
